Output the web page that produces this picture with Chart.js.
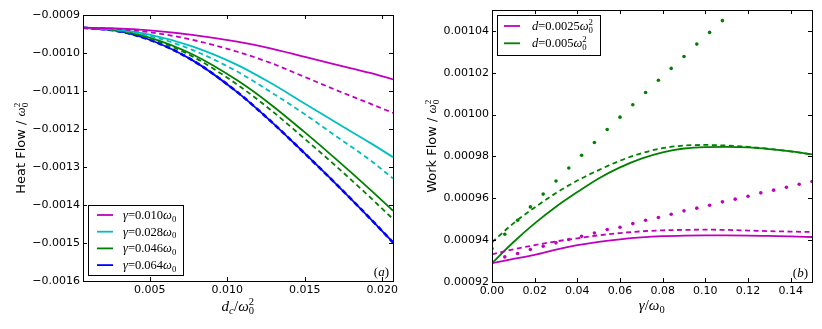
<!DOCTYPE html>
<html>
<head>
<meta charset="utf-8">
<script src="https://cdn.jsdelivr.net/npm/chart.js@4.4.1/dist/chart.umd.min.js"></script>
<style>
  body { margin: 0; background: #fff; }
  .panel { position: absolute; top: 0; width: 411px; height: 329px; }
  #left { left: 0; }
  #right { left: 411px; }
</style>
</head>
<body>
<div class="panel" id="left"><canvas id="heat" width="411" height="329"></canvas></div>
<div class="panel" id="right"><canvas id="work" width="411" height="329"></canvas></div>
<script>
// ---- panel (a): heat flow vs d_c ----
const dcValues = [0.0007, 0.0028, 0.005, 0.00775, 0.01065, 0.01279, 0.01494, 0.01708, 0.01923, 0.0207];
const heat010 = [-0.0009335, -0.000935, -0.0009403, -0.0009522, -0.0009703, -0.0009877, -0.0010096, -0.0010312, -0.0010525, -0.0010695];
const heat010d = [-0.0009335, -0.0009364, -0.0009453, -0.0009653, -0.0009967, -0.0010259, -0.001062, -0.0010984, -0.0011334, -0.0011577];
const heat028 = [-0.0009335, -0.0009379, -0.0009516, -0.0009825, -0.0010312, -0.0010785, -0.0011315, -0.0011843, -0.0012365, -0.0012741];
const heat028d = [-0.0009335, -0.0009387, -0.0009551, -0.0009917, -0.0010489, -0.0011021, -0.001159, -0.0012206, -0.001282, -0.0013302];
const heat046 = [-0.0009335, -0.0009398, -0.0009593, -0.0010033, -0.001072, -0.0011347, -0.0012064, -0.0012812, -0.0013595, -0.0014153];
const heat046d = [-0.0009335, -0.0009403, -0.0009614, -0.0010088, -0.0010831, -0.0011492, -0.0012235, -0.0012999, -0.00138, -0.0014369];
const heat064 = [-0.0009335, -0.0009411, -0.0009651, -0.0010188, -0.0011029, -0.0011785, -0.0012617, -0.0013468, -0.0014356, -0.0014986];
const heat064d = [-0.0009335, -0.0009411, -0.0009651, -0.0010188, -0.0011029, -0.0011785, -0.0012617, -0.0013468, -0.0014356, -0.0014986];
const heatXTicks = [0.005, 0.010, 0.015, 0.020];
const heatYTicks = [-0.0016, -0.0015, -0.0014, -0.0013, -0.0012, -0.0011, -0.0010, -0.0009];

// ---- panel (b): work flow vs gamma ----
const gammaValues = [0, 0.01, 0.02, 0.03, 0.04, 0.05, 0.06, 0.07, 0.08, 0.09, 0.10, 0.11, 0.12, 0.13, 0.14, 0.15];
const work0025 = [0.000929, 0.000931, 0.000933, 0.0009355, 0.0009376, 0.0009392, 0.0009404, 0.0009413, 0.0009419, 0.0009422, 0.0009423, 0.0009423, 0.0009422, 0.000942, 0.0009418, 0.0009415];
const work0025d = [0.0009332, 0.0009356, 0.0009376, 0.0009394, 0.0009409, 0.0009423, 0.0009434, 0.0009442, 0.0009447, 0.0009449, 0.000945, 0.0009449, 0.0009446, 0.0009443, 0.0009441, 0.0009439];
const work005 = [0.000929, 0.000939, 0.000948, 0.000956, 0.000963, 0.0009695, 0.0009748, 0.000979, 0.000982, 0.0009838, 0.0009845, 0.0009846, 0.0009843, 0.0009835, 0.0009824, 0.000981];
const work005d = [0.000939, 0.000948, 0.0009556, 0.0009625, 0.0009685, 0.0009735, 0.000978, 0.0009815, 0.000984, 0.0009852, 0.0009855, 0.0009852, 0.0009846, 0.0009836, 0.0009824, 0.000981];
const gammaDots = [0, 0.006, 0.012, 0.018, 0.024, 0.030, 0.036, 0.042, 0.048, 0.054, 0.060, 0.066, 0.072, 0.078, 0.084, 0.090, 0.096, 0.102, 0.108, 0.114, 0.120, 0.126, 0.132, 0.138, 0.144, 0.150];
const dots0025 = [0.0009296, 0.000932, 0.0009336, 0.0009355, 0.0009371, 0.0009387, 0.0009403, 0.0009419, 0.0009434, 0.0009451, 0.0009462, 0.0009479, 0.0009495, 0.0009508, 0.0009524, 0.000954, 0.0009553, 0.0009567, 0.0009583, 0.0009596, 0.000961, 0.0009626, 0.0009639, 0.0009653, 0.0009667, 0.000968];
const dots005 = [0.000936, 0.0009428, 0.0009495, 0.0009559, 0.000962, 0.0009683, 0.0009745, 0.0009806, 0.0009867, 0.0009929, 0.0009988, 0.0010047, 0.0010106, 0.0010164, 0.0010221, 0.0010278, 0.0010337, 0.0010393, 0.0010449];
const workXTicks = [0, 0.02, 0.04, 0.06, 0.08, 0.10, 0.12, 0.14];
const workYTicks = [0.00092, 0.00094, 0.00096, 0.00098, 0.00100, 0.00102, 0.00104];

const MAG = '#bf00bf', CYAN = '#00bfbf', GREEN = '#008000', BLUE = '#0000ff';
const DASH = [5, 3.5];

function line(xs, ys, color, dashed, width) {
    return {
        data: xs.map((x, i) => ({ x: x, y: ys[i] })),
        borderColor: color,
        borderWidth: width || 1.8,
        borderDash: dashed ? DASH : [],
        pointRadius: 0,
        cubicInterpolationMode: 'monotone',
        fill: false
    };
}

function dots(xs, ys, color) {
    return {
        data: ys.map((y, i) => ({ x: xs[i], y: y })),
        showLine: false,
        pointRadius: 1.8,
        pointBorderWidth: 0,
        pointBackgroundColor: color,
        borderColor: color
    };
}

// rich text helpers (math-ish labels with sub/superscripts)
function fontFor(f, s) {
    if (f === 'sans') return s + 'px "DejaVu Sans"';
    if (f === 'it') return 'italic ' + s + 'px "Liberation Serif"';
    return s + 'px "Liberation Serif"';
}

function partWidth(ctx, p, s) {
    if (p.t !== undefined) { ctx.font = fontFor(p.f, s); return ctx.measureText(p.t).width; }
    const ss = s * 0.7;
    ctx.font = fontFor(p.sf || 'rm', ss);
    const a = p.sub ? ctx.measureText(p.sub).width : 0;
    const b = p.sup ? ctx.measureText(p.sup).width : 0;
    return Math.max(a, b) + 0.5;
}

function drawRich(ctx, parts, x, y, s, align) {
    let w = 0;
    parts.forEach(p => { w += partWidth(ctx, p, s); });
    let cx = align === 'center' ? x - w / 2 : (align === 'right' ? x - w : x);
    ctx.textBaseline = 'alphabetic';
    ctx.textAlign = 'left';
    parts.forEach(p => {
        const pw = partWidth(ctx, p, s);
        if (p.t !== undefined) {
            ctx.font = fontFor(p.f, s);
            ctx.fillText(p.t, cx, y);
        } else {
            ctx.font = fontFor(p.sf || 'rm', s * 0.7);
            if (p.sub) ctx.fillText(p.sub, cx, y + s * 0.22);
            if (p.sup) ctx.fillText(p.sup, cx, y - s * 0.42);
        }
        cx += pw;
    });
}

const framePlugin = {
    id: 'frame',
    afterDraw(chart, args, opts) {
        const { ctx, chartArea: a, scales: { x, y } } = chart;
        ctx.save();
        ctx.strokeStyle = '#000';
        ctx.lineWidth = 1;
        ctx.beginPath();
        x.ticks.forEach(t => {
            const px = Math.round(x.getPixelForValue(t.value)) + 0.5;
            ctx.moveTo(px, a.bottom); ctx.lineTo(px, a.bottom - 4);
            ctx.moveTo(px, a.top); ctx.lineTo(px, a.top + 4);
        });
        y.ticks.forEach(t => {
            const py = Math.round(y.getPixelForValue(t.value)) + 0.5;
            ctx.moveTo(a.left, py); ctx.lineTo(a.left + 4, py);
            ctx.moveTo(a.right, py); ctx.lineTo(a.right - 4, py);
        });
        ctx.stroke();
        ctx.strokeRect(Math.round(a.left) + 0.5, Math.round(a.top) + 0.5,
            Math.round(a.right - a.left), Math.round(a.bottom - a.top));

        ctx.fillStyle = '#000';
        // axis titles
        drawRich(ctx, opts.xTitle, (a.left + a.right) / 2, opts.xTitleY, 15, 'center');
        ctx.save();
        ctx.translate(opts.yTitleX, (a.top + a.bottom) / 2);
        ctx.rotate(-Math.PI / 2);
        drawRich(ctx, opts.yTitle, 0, 0, 13, 'center');
        ctx.restore();

        // panel tag
        drawRich(ctx, opts.tag, a.right - 4, a.bottom - 5, 13, 'right');

        // legend box
        const L = opts.legend;
        const bx = a.left + L.dx, by = L.top ? a.top + L.dy : a.bottom - L.dy - L.h;
        ctx.fillStyle = '#fff';
        ctx.fillRect(bx, by, L.w, L.h);
        ctx.strokeStyle = '#000';
        ctx.strokeRect(Math.round(bx) + 0.5, Math.round(by) + 0.5, L.w, L.h);
        L.items.forEach((it, i) => {
            const ry = by + L.first + i * L.step;
            ctx.strokeStyle = it.color;
            ctx.lineWidth = 1.8;
            ctx.beginPath();
            ctx.moveTo(bx + L.lineX, ry); ctx.lineTo(bx + L.lineX + 16, ry);
            ctx.stroke();
            ctx.fillStyle = '#000';
            drawRich(ctx, it.label, bx + L.textX, ry + 4, 12.5, 'left');
        });
        ctx.restore();
    }
};

const tickFont = { family: 'DejaVu Sans', size: 11 };

function axis(min, max, ticks, fmt, extra) {
    return Object.assign({
        type: 'linear',
        min: min,
        max: max,
        afterBuildTicks: s => { s.ticks = ticks.map(v => ({ value: v })); },
        grid: { display: false, drawTicks: false },
        border: { display: false },
        ticks: { font: tickFont, color: '#000', maxRotation: 0, minRotation: 0, callback: fmt }
    }, extra);
}

const minusFmt = d => v => (v < 0 ? '\u2212' : '') + Math.abs(v).toFixed(d);

new Chart(document.getElementById('heat'), {
    type: 'line',
    data: {
        datasets: [
            line(dcValues, heat010, MAG, false),
            line(dcValues, heat010d, MAG, true),
            line(dcValues, heat028, CYAN, false),
            line(dcValues, heat028d, CYAN, true),
            line(dcValues, heat046, GREEN, false),
            line(dcValues, heat046d, GREEN, true),
            line(dcValues, heat064, BLUE, false),
            line(dcValues, heat064d, BLUE, true, 2.6)
        ]
    },
    options: {
        responsive: false,
        animation: false,
        layout: { padding: { top: 15, right: 18, left: 0, bottom: 0 } },
        scales: {
            x: axis(0.0007, 0.0207, heatXTicks, minusFmt(3), { afterFit: s => { s.height = 48; } }),
            y: axis(-0.0016, -0.0009, heatYTicks, minusFmt(4), { afterFit: s => { s.width = 83; } })
        },
        plugins: {
            legend: { display: false },
            tooltip: { enabled: false },
            frame: {
                xTitle: [{ t: 'd', f: 'it' }, { sub: 'c', sf: 'it' }, { t: '/', f: 'rm' }, { t: 'ω', f: 'it' }, { sub: '0', sup: '2' }],
                xTitleY: 311,
                yTitle: [{ t: 'Heat Flow / ', f: 'sans' }, { t: 'ω', f: 'it' }, { sub: '0', sup: '2' }],
                yTitleX: 25,
                tag: [{ t: '(', f: 'rm' }, { t: 'a', f: 'it' }, { t: ')', f: 'rm' }],
                legend: {
                    dx: 5, dy: 6, top: false, w: 95, h: 70, first: 10, step: 16.7, lineX: 9, textX: 35,
                    items: [
                        { color: MAG, label: [{ t: 'γ', f: 'it' }, { t: '=0.010', f: 'rm' }, { t: 'ω', f: 'it' }, { sub: '0' }] },
                        { color: CYAN, label: [{ t: 'γ', f: 'it' }, { t: '=0.028', f: 'rm' }, { t: 'ω', f: 'it' }, { sub: '0' }] },
                        { color: GREEN, label: [{ t: 'γ', f: 'it' }, { t: '=0.046', f: 'rm' }, { t: 'ω', f: 'it' }, { sub: '0' }] },
                        { color: BLUE, label: [{ t: 'γ', f: 'it' }, { t: '=0.064', f: 'rm' }, { t: 'ω', f: 'it' }, { sub: '0' }] }
                    ]
                }
            }
        }
    },
    plugins: [framePlugin]
});

new Chart(document.getElementById('work'), {
    type: 'line',
    data: {
        datasets: [
            line(gammaValues, work0025, MAG, false),
            line(gammaValues, work0025d, MAG, true),
            dots(gammaDots, dots0025, MAG),
            line(gammaValues, work005, GREEN, false),
            line(gammaValues, work005d, GREEN, true),
            dots(gammaDots, dots005, GREEN)
        ]
    },
    options: {
        responsive: false,
        animation: false,
        layout: { padding: { top: 10, right: 10, left: 0, bottom: 0 } },
        scales: {
            x: axis(0, 0.15, workXTicks, minusFmt(2), { afterFit: s => { s.height = 47; } }),
            y: axis(0.00092, 0.00105, workYTicks, minusFmt(5), { afterFit: s => { s.width = 81; } })
        },
        plugins: {
            legend: { display: false },
            tooltip: { enabled: false },
            frame: {
                xTitle: [{ t: 'γ', f: 'it' }, { t: '/', f: 'rm' }, { t: 'ω', f: 'it' }, { sub: '0' }],
                xTitleY: 310,
                yTitle: [{ t: 'Work Flow / ', f: 'sans' }, { t: 'ω', f: 'it' }, { sub: '0', sup: '2' }],
                yTitleX: 25,
                tag: [{ t: '(', f: 'rm' }, { t: 'b', f: 'it' }, { t: ')', f: 'rm' }],
                legend: {
                    dx: 5, dy: 5, top: true, w: 103, h: 40, first: 11, step: 17.3, lineX: 7, textX: 35,
                    items: [
                        { color: MAG, label: [{ t: 'd', f: 'it' }, { t: '=0.0025', f: 'rm' }, { t: 'ω', f: 'it' }, { sub: '0', sup: '2' }] },
                        { color: GREEN, label: [{ t: 'd', f: 'it' }, { t: '=0.005', f: 'rm' }, { t: 'ω', f: 'it' }, { sub: '0', sup: '2' }] }
                    ]
                }
            }
        }
    },
    plugins: [framePlugin]
});
</script>
</body>
</html>
